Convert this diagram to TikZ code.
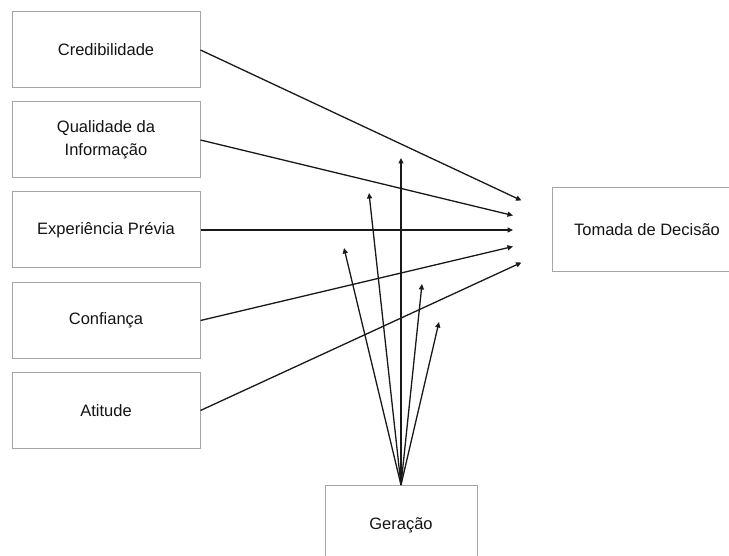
\documentclass[tikz,border=0pt]{standalone}
\usepackage{fontspec}
\setmainfont{Liberation Sans}
\usetikzlibrary{arrows.meta}
\definecolor{boxgray}{RGB}{165,165,165}
\definecolor{txt}{RGB}{20,20,20}
\tikzset{
  box/.style={draw=boxgray, line width=1pt, fill=white, inner sep=0pt, align=center,
    text=txt, font=\fontsize{16.5}{23}\selectfont},
  conn/.style={line width=1.3pt, draw=black!90, -{Triangle[length=5.5pt,width=5pt]}}
}
\begin{document}
\begin{tikzpicture}[x=1pt,y=-1pt]
\clip (0,0) rectangle (729,556);
\fill[white] (0,0) rectangle (729,556);
% left boxes
\node[box, minimum width=188pt, minimum height=76pt] (cred) at (106,50) {Credibilidade};
\node[box, minimum width=188pt, minimum height=76pt] (qual) at (106,140) {Qualidade da\\Informação};
\node[box, minimum width=188pt, minimum height=76pt] (exp) at (106,230) {Experiência Prévia};
\node[box, minimum width=188pt, minimum height=76pt] (conf) at (106,320.5) {Confiança};
\node[box, minimum width=188pt, minimum height=76pt] (atit) at (106,410.5) {Atitude};
% right box
\node[box, minimum width=190pt, minimum height=84pt] (tom) at (647,230) {Tomada de Decisão};
% bottom box
\node[box, minimum width=152pt, minimum height=84pt, anchor=north] (ger) at (401,485) {\raisebox{7pt}{Geração}};
% arrow end points near Tomada de Decisão
\coordinate (t1) at (521.5,200.5);
\coordinate (t2) at (513,215.5);
\coordinate (t3) at (513,230);
\coordinate (t4) at (513,246.5);
\coordinate (t5) at (521.5,262.5);
% arrow end points of Geração
\coordinate (g1) at (401,158);
\coordinate (g2) at (369,193);
\coordinate (g3) at (344,248);
\coordinate (g4) at (422,284);
\coordinate (g5) at (439,322);
\draw[conn] (cred.east) -- (t1);
\draw[conn] (qual.east) -- (t2);
\draw[conn] (exp.east) -- (t3);
\draw[conn] (conf.east) -- (t4);
\draw[conn] (atit.east) -- (t5);
\draw[conn] (ger.north) -- (g1);
\draw[conn] (ger.north) -- (g2);
\draw[conn] (ger.north) -- (g3);
\draw[conn] (ger.north) -- (g4);
\draw[conn] (ger.north) -- (g5);
\end{tikzpicture}
\end{document}
